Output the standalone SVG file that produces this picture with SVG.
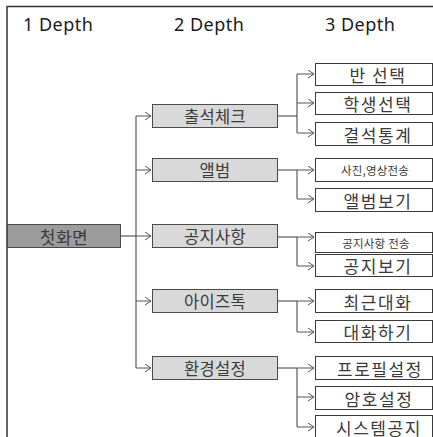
<svg xmlns="http://www.w3.org/2000/svg" width="433" height="437" viewBox="0 0 433 437">
<style>
.hdr{font-family:"Noto Sans","Noto Sans CJK KR",sans-serif;font-size:18px;fill:#1a1a1a;letter-spacing:0.5px}
.t{font-family:"Noto Sans CJK KR","Noto Sans",sans-serif;fill:#3a3a3a;text-anchor:middle;dominant-baseline:central}
.d1{fill:#9c9c9c;stroke:#4a4a4a;stroke-width:1}
.d2{fill:#d9d9d9;stroke:#4a4a4a;stroke-width:1}
.d3{fill:#fff;stroke:#3a3a3a;stroke-width:1}
.f1{font-size:17px;letter-spacing:0.5px}
.f2{font-size:16.5px;letter-spacing:0.3px}
.f3{font-size:17px;letter-spacing:1.6px}
.fs{font-size:11.5px;letter-spacing:0.2px}
.c{fill:none;stroke:#3a3a3a;stroke-width:1}
.a{fill:none;stroke:#555;stroke-width:1;marker-end:url(#arr)}
</style>
<defs>
<marker id="arr" markerUnits="userSpaceOnUse" markerWidth="8" markerHeight="10" refX="6.5" refY="4.5" orient="auto">
<path d="M0.5,0.5 L6.5,4.5 L0.5,8.5" fill="none" stroke="#555" stroke-width="1"/>
</marker>
</defs>
<rect width="433" height="437" fill="#fff"/>
<g id="frame">
<path d="M7,437 V6.5 H433" fill="none" stroke="#333" stroke-width="1.5"/>
</g>
<g id="headers">
<text class="hdr" x="23" y="31">1 Depth</text>
<text class="hdr" x="174" y="31">2 Depth</text>
<text class="hdr" x="325" y="31">3 Depth</text>
</g>
<g id="connectors">
<path class="c" d="M121,236 H136 M136,116 V368"/>
<path class="a" d="M136,116 H151"/>
<path class="a" d="M136,170 H151"/>
<path class="a" d="M136,236 H151"/>
<path class="a" d="M136,301 H151"/>
<path class="a" d="M136,368 H151"/>
<path class="c" d="M278,116 H297 M297,74 V133"/>
<path class="a" d="M297,74 H314"/>
<path class="a" d="M297,103 H314"/>
<path class="a" d="M297,133 H314"/>
<path class="c" d="M278,170 H297 M297,170 V199"/>
<path class="a" d="M297,170 H314"/>
<path class="a" d="M297,199 H314"/>
<path class="c" d="M278,237 H297 M297,237 V266"/>
<path class="a" d="M297,237 H314"/>
<path class="a" d="M297,266 H314"/>
<path class="c" d="M278,301 H297 M297,301 V332"/>
<path class="a" d="M297,301 H314"/>
<path class="a" d="M297,332 H314"/>
<path class="c" d="M278,368 H297 M297,368 V427"/>
<path class="a" d="M297,368 H314"/>
<path class="a" d="M297,397 H314"/>
<path class="a" d="M297,427 H314"/>
</g>
<g id="n-first"><rect class="d1" x="7.5" y="224.5" width="113" height="23"/><text class="t f1" x="64" y="236">첫화면</text></g>
<g id="n-attend"><rect class="d2" x="152.5" y="104.5" width="125" height="23"/><text class="t f2" x="215" y="116">출석체크</text></g>
<g id="n-album"><rect class="d2" x="152.5" y="158.5" width="125" height="23"/><text class="t f2" x="215" y="170">앨범</text></g>
<g id="n-notice"><rect class="d2" x="152.5" y="224.5" width="125" height="23"/><text class="t f2" x="215" y="236">공지사항</text></g>
<g id="n-talk"><rect class="d2" x="152.5" y="289.5" width="125" height="23"/><text class="t f2" x="215" y="301">아이즈톡</text></g>
<g id="n-settings"><rect class="d2" x="152.5" y="356.5" width="125" height="23"/><text class="t f2" x="215" y="368">환경설정</text></g>
<g id="n-class"><rect class="d3" x="315.5" y="63.5" width="117" height="22"/><text class="t f3" x="378" y="74.5">반 선택</text></g>
<g id="n-student"><rect class="d3" x="315.5" y="92.5" width="117" height="22"/><text class="t f3" x="378" y="103.5">학생선택</text></g>
<g id="n-absence"><rect class="d3" x="315.5" y="122.5" width="117" height="23"/><text class="t f3" x="378" y="134">결석통계</text></g>
<g id="n-upload"><rect class="d3" x="315.5" y="158.5" width="117" height="23"/><text class="t fs" x="375" y="170">사진,영상전송</text></g>
<g id="n-albumview"><rect class="d3" x="315.5" y="188.5" width="117" height="23"/><text class="t f3" x="378" y="200">앨범보기</text></g>
<g id="n-noticesend"><rect class="d3" x="315.5" y="232.5" width="117" height="20"/><text class="t fs" x="376" y="242.5">공지사항 전송</text></g>
<g id="n-noticeview"><rect class="d3" x="315.5" y="254.5" width="117" height="22"/><text class="t f3" x="378" y="265.5">공지보기</text></g>
<g id="n-recent"><rect class="d3" x="315.5" y="289.5" width="117" height="23"/><text class="t f3" x="378" y="301">최근대화</text></g>
<g id="n-chat"><rect class="d3" x="315.5" y="320.5" width="117" height="22"/><text class="t f3" x="378" y="331.5">대화하기</text></g>
<g id="n-profile"><rect class="d3" x="315.5" y="356.5" width="117" height="23"/><text class="t f3" x="380" y="368">프로필설정</text></g>
<g id="n-password"><rect class="d3" x="315.5" y="386.5" width="117" height="23"/><text class="t f3" x="379" y="398">암호설정</text></g>
<g id="n-system"><rect class="d3" x="315.5" y="415.5" width="117" height="25"/><text class="t f3" x="379" y="427">시스템공지</text></g>
</svg>
